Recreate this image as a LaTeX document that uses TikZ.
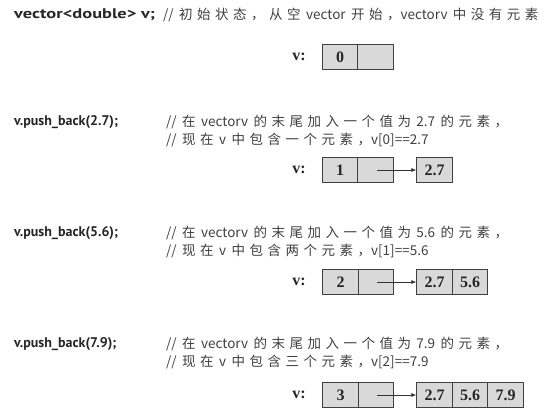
\documentclass[tikz,border=0pt]{standalone}
\usepackage{fontspec}
\usepackage{graphicx}
\newfontfamily\codefont{PT Sans}
\newfontfamily\cjk{Noto Sans CJK SC}[WordSpace=1.8]
\newfontfamily\numfont{Liberation Serif}
\newXeTeXintercharclass\cjkcls
\newXeTeXintercharclass\cjkpun
\def\setcjk#1{\ifx#1\relax\else\XeTeXcharclass`#1=\cjkcls\expandafter\setcjk\fi}
\setcjk 初始状态从空开没有元素在的末尾加入一个值为现中包含两三\relax
\XeTeXcharclass`，=\cjkpun
\XeTeXinterchartokenstate=1
\XeTeXinterchartoks\cjkcls\cjkcls = {\hskip 4.5pt\relax}
\XeTeXinterchartoks\cjkcls\cjkpun = {\hskip 4.5pt\relax}
\XeTeXinterchartoks\cjkpun\cjkcls = {\hskip 4.5pt\relax}
\usetikzlibrary{arrows.meta}
\begin{document}
\begin{tikzpicture}[x=1pt,y=-1pt,
  code/.style={anchor=west,inner sep=0pt,text=black!85,font=\codefont\bfseries\fontsize{14}{16}\selectfont},
  cmt/.style={anchor=west,inner sep=0pt,text=black!75,font=\cjk\fontsize{13.5}{16}\selectfont},
  lbl/.style={inner sep=0pt,text=black!85,font=\numfont\bfseries\fontsize{16}{18}\selectfont},
  cell/.style={draw=black!75,line width=0.8pt,fill=gray!30,minimum width=35.5pt,minimum height=25pt,inner sep=0pt,text=black!85,font=\numfont\bfseries\fontsize{16}{18}\selectfont},
  ptr/.style={draw=black!80,line width=0.7pt,-{Latex[length=5pt,width=4pt]}}]
\useasboundingbox (0,0) rectangle (545,417);
% row 1
\node[code] (c1) at (14,15) {\resizebox{141pt}{\height}{vector<double> v;}};
\node[cmt] (m1) at (163,15) {// 初始状态，从空 vector 开始，vectorv 中没有元素};
\node[lbl] (v1) at (299,57) {v:};
\node[cell] (a1) at (340,57) {0};
\node[cell] (b1) at (375.5,57) {};
% row 2
\node[code] (c2) at (14,122) {v.push\_back(2.7);};
\node[cmt] (m2a) at (166,122) {// 在 vectorv 的末尾加入一个值为 2.7 的元素，};
\node[cmt] (m2b) at (166,140) {// 现在 v 中包含一个元素，v[0]==2.7};
\node[lbl] (v2) at (299,170) {v:};
\node[cell] (a2) at (340,170) {1};
\node[cell] (b2) at (375.5,170) {};
\node[cell] (e21) at (434.5,170) {2.7};
\coordinate (s2) at (377,170);
\draw[ptr] (s2) -- (e21.west);
% row 3
\node[code] (c3) at (14,233) {v.push\_back(5.6);};
\node[cmt] (m3a) at (166,233) {// 在 vectorv 的末尾加入一个值为 5.6 的元素，};
\node[cmt] (m3b) at (166,251) {// 现在 v 中包含两个元素，v[1]==5.6};
\node[lbl] (v3) at (299,282) {v:};
\node[cell] (a3) at (340.5,282) {2};
\node[cell] (b3) at (376,282) {};
\node[cell] (e31) at (434.5,282) {2.7};
\node[cell] (e32) at (470,282) {5.6};
\coordinate (s3) at (377,282);
\draw[ptr] (s3) -- (e31.west);
% row 4
\node[code] (c4) at (14,344) {v.push\_back(7.9);};
\node[cmt] (m4a) at (166,344) {// 在 vectorv 的末尾加入一个值为 7.9 的元素，};
\node[cmt] (m4b) at (166,362) {// 现在 v 中包含三个元素，v[2]==7.9};
\node[lbl] (v4) at (299,395) {v:};
\node[cell] (a4) at (340.5,395) {3};
\node[cell] (b4) at (376,395) {};
\node[cell] (e41) at (434.5,395) {2.7};
\node[cell] (e42) at (470,395) {5.6};
\node[cell] (e43) at (505.5,395) {7.9};
\coordinate (s4) at (377,395);
\draw[ptr] (s4) -- (e41.west);
\end{tikzpicture}
\end{document}
